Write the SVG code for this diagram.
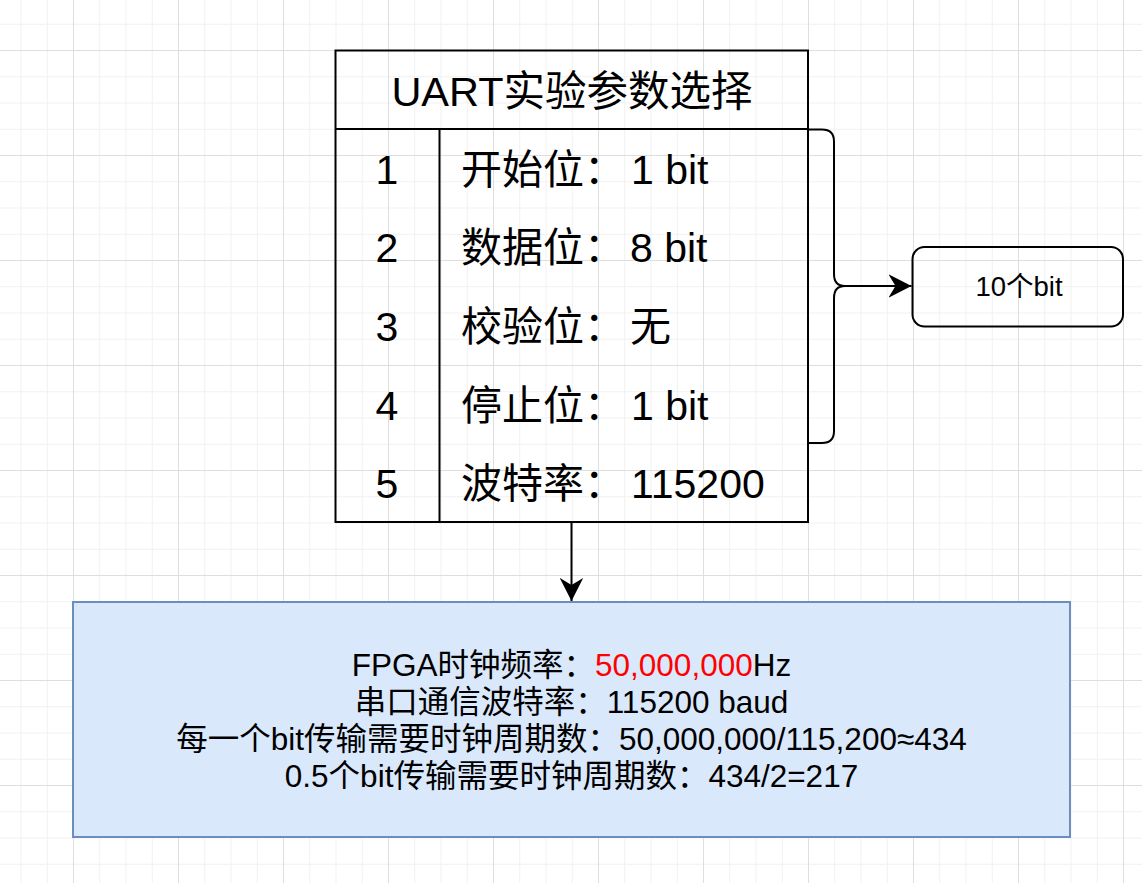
<svg xmlns="http://www.w3.org/2000/svg" width="1142" height="883" viewBox="0 0 1142 883">
  <style>
    text { font-family: "Liberation Sans", "Noto Sans CJK SC", Arial, sans-serif; fill: #000; }
    .big { font-size: 41px; }
    .head { font-size: 41.5px; }
    .mid { font-size: 31.5px; }
    .small { font-size: 27.5px; }
    .line { fill: none; stroke: #000; stroke-width: 2; }
  </style>
  <defs>
    <pattern id="grid" patternUnits="userSpaceOnUse" x="73" y="50" width="105" height="105">
      <path d="M26.75 0V105M53 0V105M79.25 0V105M0 26.75H105M0 53H105M0 79.25H105" stroke="#f1f1f1" stroke-width="1" fill="none"/>
      <path d="M0.5 0V105M0 0.5H105" stroke="#dedede" stroke-width="1" fill="none"/>
    </pattern>
    <marker id="arrow" markerUnits="userSpaceOnUse" viewBox="0 0 24 24" refX="23" refY="12" markerWidth="24" markerHeight="24" orient="auto">
      <path d="M0 0.3L23 12L0 23.7L7 12Z" fill="#000"/>
    </marker>
  </defs>
  <rect width="1142" height="883" fill="#fff"/>
  <rect width="1142" height="883" fill="url(#grid)"/>

  <g id="connectors">
    <line class="line" x1="571.5" y1="522" x2="571.5" y2="601" marker-end="url(#arrow)"/>
    <line class="line" x1="845" y1="286" x2="911.5" y2="286" marker-end="url(#arrow)"/>
  </g>

  <g id="table">
    <rect class="line" x="335.5" y="50.5" width="472.5" height="471.5" fill="#fff"/>
    <line class="line" x1="335.5" y1="129" x2="808" y2="129"/>
    <line class="line" x1="439.5" y1="129" x2="439.5" y2="522"/>
    <text class="head" x="572" y="106" text-anchor="middle">UART实验参数选择</text>
    <text class="big" x="387" y="183.5" text-anchor="middle">1</text>
    <text class="big" x="387" y="262.2" text-anchor="middle">2</text>
    <text class="big" x="387" y="340.9" text-anchor="middle">3</text>
    <text class="big" x="387" y="419.6" text-anchor="middle">4</text>
    <text class="big" x="387" y="498.3" text-anchor="middle">5</text>
    <text class="big" x="461" y="183.5">开始位：<tspan x="631">1 bit</tspan></text>
    <text class="big" x="461" y="262.2">数据位：<tspan x="630">8 bit</tspan></text>
    <text class="big" x="461" y="340.9">校验位：<tspan x="630">无</tspan></text>
    <text class="big" x="461" y="419.6">停止位：<tspan x="631">1 bit</tspan></text>
    <text class="big" x="461" y="498.3">波特率：<tspan x="631">115200</tspan></text>
  </g>

  <g id="brace">
    <path class="line" d="M808 129.5H822Q834 129.5 834 141.5V274Q834 286 845 286Q834 286 834 298V431Q834 443 822 443H808"/>
  </g>

  <g id="bits">
    <rect class="line" x="912.5" y="247" width="210.5" height="79.5" rx="12" fill="#fff"/>
    <text class="small" x="1019" y="296" text-anchor="middle">10个bit</text>
  </g>

  <g id="calc">
    <rect x="73" y="602" width="997" height="235" fill="#dae8fc" stroke="#6c8ebf" stroke-width="2"/>
    <text class="mid" x="571.5" y="676" text-anchor="middle">FPGA时钟频率：<tspan fill="#ff0000">50,000,000</tspan>Hz</text>
    <text class="mid" x="571.5" y="713" text-anchor="middle">串口通信波特率：115200 baud</text>
    <text class="mid" x="571.5" y="750" text-anchor="middle">每一个bit传输需要时钟周期数：50,000,000/115,200≈434</text>
    <text class="mid" x="571.5" y="787" text-anchor="middle">0.5个bit传输需要时钟周期数：434/2=217</text>
  </g>
</svg>
